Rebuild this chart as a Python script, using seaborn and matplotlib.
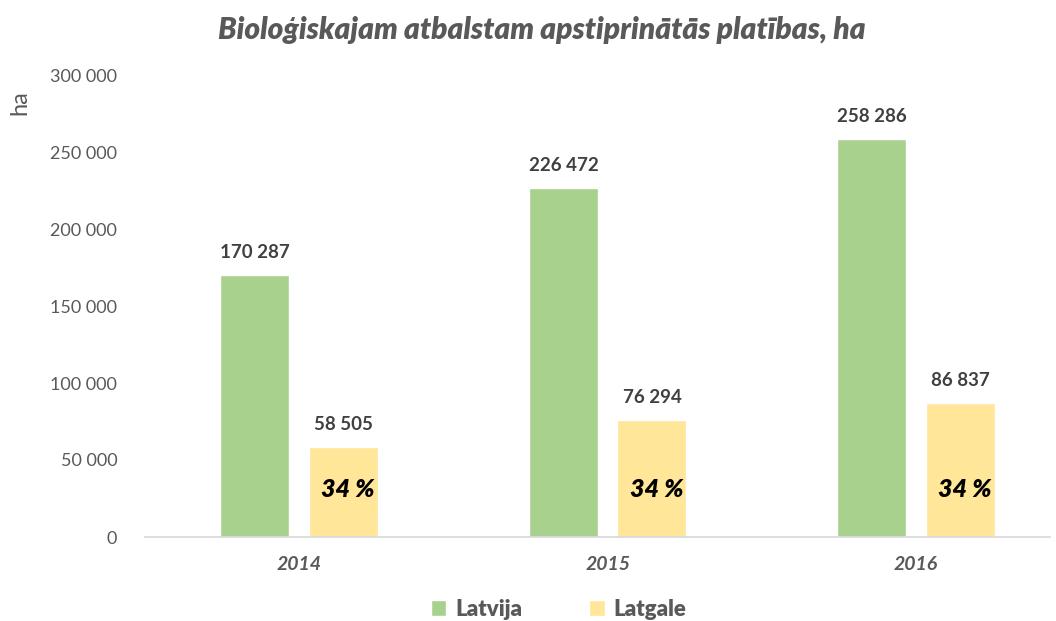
import pandas as pd
import matplotlib.pyplot as plt
import seaborn as sns

# 데이터
years = ['2014', '2015', '2016']
latvija = [170287, 226472, 258286]
latgale = [58505, 76294, 86837]
share_labels = ['34 %', '34 %', '34 %']
series_names = ['Latvija', 'Latgale']
colors = ['#A9D18E', '#FFE699']

sns.set_theme(style='white')
plt.rcParams['font.family'] = ['Lato', 'DejaVu Sans']


def fmt(v):
    return f"{v:,}".replace(',', ' ')


df = pd.DataFrame({
    'year': years * 2,
    'value': latvija + latgale,
    'series': [series_names[0]] * 3 + [series_names[1]] * 3,
})

fig = plt.figure(figsize=(10.56, 6.21), dpi=100)
ax = fig.add_axes([145 / 1056, 84 / 621, 905 / 1056, 462 / 621])

sns.barplot(data=df, x='year', y='value', hue='series', palette=colors,
            width=0.574, gap=0.22, ax=ax, legend=True, saturation=1)

ax.set_ylim(0, 300000)
ax.set_xlim(-0.5, 2.434)
ax.set_yticks(range(0, 300001, 50000))
ax.set_yticklabels([fmt(v) for v in range(0, 300001, 50000)],
                   color='#595959', fontsize=13)
ax.tick_params(axis='y', length=0, pad=20)
ax.tick_params(axis='x', length=0, pad=14)
for lbl in ax.get_xticklabels():
    lbl.set_fontstyle('italic')
    lbl.set_fontweight('bold')
    lbl.set_color('#595959')
    lbl.set_fontsize(14)

for side in ['top', 'right', 'left']:
    ax.spines[side].set_visible(False)
ax.spines['bottom'].set_color('#D9D9D9')
ax.set_xlabel('')
ax.set_ylabel('')

# 값 라벨
for container in ax.containers:
    ax.bar_label(container, labels=[fmt(int(b.get_height())) for b in container],
                 padding=10, fontsize=13.5, fontweight='bold', color='#404040')

# 34 % 라벨 (Latgale 막대 안)
for bar, txt in zip(ax.containers[1], share_labels):
    ax.text(bar.get_x() + bar.get_width() / 2 + 0.015, 31000, txt,
            ha='center', va='center', fontsize=18, fontweight='heavy',
            fontstyle='italic', color='black')

fig.text(20 / 1056, 1 - 103 / 621, 'ha', rotation=90, ha='center', va='center',
         fontsize=17, color='#595959')
fig.text(0.513, 1 - 30 / 621, 'Bioloģiskajam atbalstam apstiprinātās platības, ha',
         ha='center', va='center', fontsize=21.5, fontweight='heavy',
         fontstyle='italic', color='#595959')

leg = ax.legend(loc='center', bbox_to_anchor=(0.457, -72 / 462), ncol=2,
                frameon=False, handlelength=0.7, handleheight=0.7,
                columnspacing=3.0, handletextpad=0.4,
                prop={'size': 16, 'weight': 'heavy'})
for t in leg.get_texts():
    t.set_color('#595959')

fig.savefig('out.png', dpi=100)
